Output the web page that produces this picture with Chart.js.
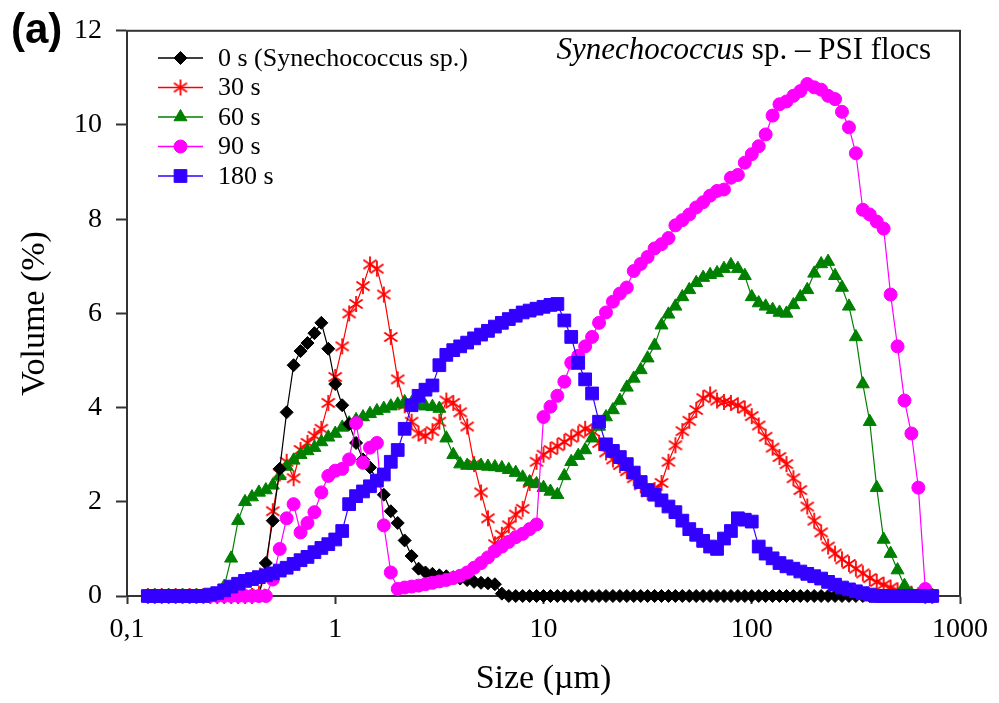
<!DOCTYPE html>
<html lang="en">
<head>
  <meta charset="UTF-8" />
  <title>Synechococcus sp. – PSI flocs</title>
  <script src="https://cdn.jsdelivr.net/npm/chart.js@4"></script>
  <style>
    html, body { margin: 0; padding: 0; background: #fff; }
  </style>
</head>
<body>
  <canvas id="psd" width="999" height="703"></canvas>

  <script>
    // particle size classes (µm), log spaced
    const sizes = [
      0.1259, 0.1359, 0.1468, 0.1585, 0.1711, 0.1848, 0.1995, 0.2154, 0.2326, 0.2512,
      0.2712, 0.2929, 0.3162, 0.3415, 0.3687, 0.3981, 0.4299, 0.4642, 0.5012, 0.5412,
      0.5843, 0.6310, 0.6813, 0.7356, 0.7943, 0.8577, 0.9261,
      1.000, 1.080, 1.166, 1.259, 1.359, 1.468, 1.585, 1.711, 1.848, 1.995,
      2.154, 2.326, 2.512, 2.712, 2.929, 3.162, 3.415, 3.687, 3.981, 4.299,
      4.642, 5.012, 5.412, 5.843, 6.310, 6.813, 7.356, 7.943, 8.577, 9.261,
      10.00, 10.80, 11.66, 12.59, 13.59, 14.68, 15.85, 17.11, 18.48, 19.95,
      21.54, 23.26, 25.12, 27.12, 29.29, 31.62, 34.15, 36.87, 39.81, 42.99,
      46.42, 50.12, 54.12, 58.43, 63.10, 68.13, 73.56, 79.43, 85.77, 92.61,
      100.0, 108.0, 116.6, 125.9, 135.9, 146.8, 158.5, 171.1, 184.8, 199.5,
      215.4, 232.6, 251.2, 271.2, 292.9, 316.2, 341.5, 368.7, 398.1, 429.9,
      464.2, 501.2, 541.2, 584.3, 631.0, 681.3, 735.6
    ];

    const labels = ['0 s (Synechococcus sp.)', '30 s', '60 s', '90 s', '180 s'];

    // volume (%) per size class
    const vol0 = [
      0, 0, 0, 0, 0, 0, 0, 0, 0, 0, 0, 0, 0, 0, 0, 0, 0,
      0.7, 1.6, 2.7, 3.9, 4.9, 5.2, 5.37, 5.58, 5.8, 5.25,
      4.5, 4.05, 3.65, 3.25, 2.9, 2.73, 2.45, 2.15, 1.8, 1.55,
      1.18, 0.85, 0.58, 0.5, 0.47, 0.44, 0.42, 0.4, 0.37, 0.34,
      0.3, 0.28, 0.27, 0.25, 0.05,
      0, 0, 0, 0, 0, 0, 0, 0, 0, 0, 0, 0, 0, 0, 0, 0, 0, 0, 0, 0, 0,
      0, 0, 0, 0, 0, 0, 0, 0, 0, 0, 0, 0, 0, 0, 0, 0, 0, 0, 0, 0, 0,
      0, 0, 0, 0, 0, 0, 0, 0, 0, 0, 0, 0, 0, 0, 0, 0, 0, 0, 0, 0
    ];
    const vol30 = [
      0, 0, 0, 0, 0, 0, 0, 0, 0, 0, 0, 0, 0, 0, 0, 0,
      0.05,
      0.5, 1.8, 2.6, 2.85, 2.5, 3.1, 3.25, 3.4, 3.55, 4.1,
      4.65, 5.3, 6.0, 6.2, 6.58, 7.04, 6.95, 6.4, 5.5, 4.6,
      4.05, 3.7, 3.45, 3.4, 3.5, 3.7, 4.15, 4.1, 3.9, 3.6,
      2.8, 2.2, 1.65, 1.1, 1.3, 1.5, 1.73, 1.85, 2.4, 2.85,
      3.0, 3.1, 3.18, 3.27, 3.36, 3.45, 3.55, 3.5, 3.25, 3.05,
      2.9, 2.78, 2.65, 2.5, 2.35, 2.2, 2.25, 2.4, 2.85, 3.2,
      3.5, 3.72, 3.95, 4.2, 4.28, 4.15, 4.12, 4.1, 4.05, 3.98,
      3.82, 3.62, 3.38, 3.15, 2.95, 2.8, 2.5, 2.25, 1.9, 1.6,
      1.35, 1.05, 0.9, 0.78, 0.68, 0.58, 0.48, 0.38, 0.3, 0.24,
      0.18, 0.12, 0.08, 0.05, 0.02, 0, 0
    ];
    const vol60 = [
      0, 0, 0, 0, 0, 0, 0, 0, 0, 0, 0,
      0.2, 0.8, 1.6, 2.0, 2.1, 2.2, 2.25, 2.35, 2.55, 2.75,
      2.88, 3.0, 3.08, 3.15, 3.27, 3.37,
      3.45, 3.58, 3.67, 3.74, 3.8, 3.87, 3.93, 3.98, 4.03, 4.07,
      4.12, 4.1, 4.05, 4.03, 4.02, 3.98, 3.35, 3.0, 2.8, 2.77,
      2.77, 2.77, 2.75, 2.74, 2.72, 2.68, 2.62, 2.52, 2.42, 2.38,
      2.3, 2.22, 2.15, 2.55, 2.85, 2.98, 3.1, 3.35, 3.6, 3.8,
      3.95, 4.15, 4.43, 4.62, 4.8, 5.05, 5.32, 5.75, 5.98, 6.15,
      6.35, 6.5, 6.65, 6.76, 6.82, 6.86, 6.95, 7.03, 6.95, 6.8,
      6.35, 6.22, 6.15, 6.08, 6.02, 6.0, 6.18, 6.35, 6.5, 6.85,
      7.05, 7.1, 6.8, 6.55, 6.15, 5.5, 4.5, 3.7, 2.3, 1.2,
      0.9, 0.55, 0.22, 0.05, 0, 0, 0
    ];
    const vol90 = [
      0, 0, 0, 0, 0, 0, 0, 0, 0, 0, 0, 0, 0, 0, 0, 0, 0, 0,
      0.35, 1.0, 1.65, 1.95, 1.35, 1.55, 1.78, 2.2, 2.55,
      2.66, 2.7, 2.9, 3.67, 2.83, 3.15, 3.25, 1.5, 0.5, 0.15,
      0.18, 0.2, 0.22, 0.25, 0.28, 0.31, 0.34, 0.38, 0.43, 0.5,
      0.6, 0.7, 0.82, 0.95, 1.05, 1.15, 1.25, 1.32, 1.42, 1.52,
      3.8, 4.02, 4.25, 4.55, 4.95, 5.1, 5.3, 5.5, 5.8, 6.02,
      6.25, 6.42, 6.55, 6.9, 7.05, 7.2, 7.38, 7.47, 7.6, 7.87,
      7.98, 8.1, 8.25, 8.36, 8.5, 8.6, 8.63, 8.88, 8.94, 9.2,
      9.38, 9.55, 9.8, 10.2, 10.44, 10.5, 10.62, 10.72, 10.87, 10.8,
      10.75, 10.62, 10.55, 10.28, 9.95, 9.4, 8.2, 8.1, 7.95, 7.8,
      6.4, 5.3, 4.15, 3.45, 2.3, 0.15, 0
    ];
    const vol180 = [
      0, 0, 0, 0, 0, 0, 0, 0, 0,
      0.03, 0.06, 0.12, 0.2, 0.26, 0.32, 0.36, 0.4, 0.44, 0.48,
      0.54, 0.6, 0.68, 0.76, 0.83, 0.93, 1.02, 1.1,
      1.2, 1.38, 1.95, 2.12, 2.22, 2.33, 2.45, 2.58, 2.85, 3.1,
      3.55, 4.05, 4.25, 4.38, 4.47, 4.9, 5.12, 5.22, 5.3, 5.38,
      5.47, 5.55, 5.63, 5.72, 5.8, 5.88, 5.95, 6.02, 6.06, 6.1,
      6.14, 6.18, 6.2, 5.85, 5.5, 4.95, 4.6, 4.3, 3.7, 3.22,
      3.08, 2.95, 2.8, 2.62, 2.42, 2.25, 2.15, 2.03, 1.9, 1.78,
      1.6, 1.42, 1.3, 1.17, 1.05, 1.0, 1.22, 1.38, 1.65, 1.62,
      1.58, 1.05, 0.9, 0.8, 0.7, 0.63, 0.58, 0.52, 0.47, 0.42,
      0.37, 0.3, 0.24, 0.18, 0.14, 0.1, 0.06, 0.03, 0, 0,
      0, 0, 0, 0, 0, 0, 0
    ];

    const xTicks = [0.1, 1, 10, 100, 1000];

    const serif = '"Liberation Serif", "Times New Roman", serif';

    // 6-armed asterisk marker for the 30 s series
    function asterisk(color, r) {
      const c = document.createElement('canvas');
      c.width = c.height = 2 * r + 2;
      const g = c.getContext('2d');
      g.strokeStyle = color;
      g.lineWidth = 1.8;
      const m = r + 1;
      g.beginPath();
      [90, 35, 145].forEach(a => {
        const dx = Math.cos(a * Math.PI / 180) * r, dy = Math.sin(a * Math.PI / 180) * r;
        g.moveTo(m - dx, m - dy);
        g.lineTo(m + dx, m + dy);
      });
      g.stroke();
      return c;
    }

    function series(vals) {
      return sizes.map((s, i) => ({ x: s, y: vals[i] }));
    }

    const frame = {
      id: 'frame',
      beforeDatasetsDraw(chart) {
        const { ctx, chartArea: a } = chart;
        ctx.save();
        ctx.strokeStyle = '#333';
        ctx.lineWidth = 2;
        ctx.strokeRect(a.left, a.top, a.right - a.left, a.bottom - a.top);
        ctx.restore();
      }
    };

    const notes = {
      id: 'notes',
      afterDraw(chart) {
        const ctx = chart.ctx;
        ctx.save();
        ctx.fillStyle = '#000';
        ctx.textBaseline = 'alphabetic';
        ctx.font = 'bold 42px "Liberation Sans", Arial, sans-serif';
        ctx.fillText('(a)', 11, 43);

        // title in the upper right corner
        const it = 'Synechococcus', rest = ' sp. – PSI flocs';
        ctx.font = '31px ' + serif;
        const wRest = ctx.measureText(rest).width;
        ctx.font = 'italic 31px ' + serif;
        const wIt = ctx.measureText(it).width;
        const x0 = 931 - wRest - wIt;
        ctx.fillText(it, x0, 59);
        ctx.font = '31px ' + serif;
        ctx.fillText(rest, x0 + wIt, 59);

        // legend
        ctx.textBaseline = 'middle';
        chart.data.datasets.forEach((ds, i) => {
          const y = 58 + i * 29.5;
          ctx.strokeStyle = ds.borderColor;
          ctx.fillStyle = ds.borderColor;
          ctx.lineWidth = 1.5;
          ctx.beginPath();
          ctx.moveTo(158, y);
          ctx.lineTo(203, y);
          ctx.stroke();
          if (Chart.helpers && Chart.helpers.drawPoint) {
            ctx.lineWidth = 1;
            Chart.helpers.drawPoint(ctx, { pointStyle: ds.pointStyle, radius: ds.pointRadius, rotation: 0, borderWidth: 1 }, 180.5, y);
          }
          ctx.fillStyle = '#000';
          ctx.font = '26px ' + serif;
          ctx.fillText(ds.label, 218, y + 1);
        });
        ctx.restore();
      }
    };

    const styles = [
      { color: '#000000', point: 'rectRot', r: 6.5, order: 3 },
      { color: '#ff0000', point: asterisk('#ff0000', 8), r: 7, order: 5 },
      { color: '#008000', point: 'triangle', r: 7.5, order: 4 },
      { color: '#ff00ff', point: 'circle', r: 6.5, order: 2 },
      { color: '#3300ff', point: 'rect', r: 9, order: 1 }
    ];
    const allVals = [vol0, vol30, vol60, vol90, vol180];

    new Chart(document.getElementById('psd'), {
      type: 'line',
      data: {
        datasets: allVals.map((v, i) => ({
          label: labels[i],
          data: series(v),
          borderColor: styles[i].color,
          backgroundColor: styles[i].color,
          borderWidth: 1.2,
          pointStyle: styles[i].point,
          pointRadius: styles[i].r,
          pointBackgroundColor: styles[i].color,
          pointBorderColor: styles[i].color,
          pointBorderWidth: 1,
          order: styles[i].order,
          clip: 14,
          tension: 0
        }))
      },
      options: {
        responsive: false,
        animation: false,
        events: [],
        layout: { padding: { left: 15, right: 39, top: 20, bottom: 4 } },
        plugins: {
          legend: { display: false },
          tooltip: { enabled: false }
        },
        scales: {
          x: {
            type: 'logarithmic',
            min: 0.1,
            max: 1000,
            afterBuildTicks: s => { s.ticks = xTicks.map(v => ({ value: v })); },
            afterFit: s => { s.height = 103; },
            ticks: {
              callback: v => String(v).replace('.', ','),
              font: { family: serif, size: 28 },
              color: '#000',
              padding: 9,
              maxRotation: 0,
              autoSkip: false
            },
            grid: { drawOnChartArea: false, tickLength: 8, tickColor: '#333', tickWidth: 2 },
            border: { color: '#333', width: 2 },
            title: { display: true, text: 'Size (µm)', font: { family: serif, size: 34 }, color: '#000', padding: 0 }
          },
          y: {
            min: 0,
            max: 12,
            afterFit: s => { s.width = 112; },
            ticks: {
              stepSize: 2,
              font: { family: serif, size: 28 },
              color: '#000',
              padding: 14
            },
            grid: { drawOnChartArea: false, tickLength: 11, tickColor: '#333', tickWidth: 2 },
            border: { color: '#333', width: 2 },
            title: { display: true, text: 'Volume (%)', font: { family: serif, size: 34 }, color: '#000', padding: 0 }
          }
        }
      },
      plugins: [frame, notes]
    });
  </script>
</body>
</html>
